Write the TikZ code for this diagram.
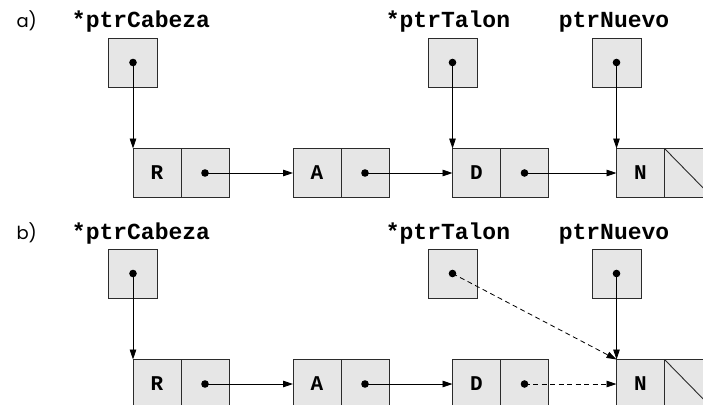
\documentclass[tikz,border=0pt]{standalone}
\usepackage{fontspec}
\setmonofont{Liberation Mono}
\newfontfamily\tagfont{Poppins}
\usetikzlibrary{arrows.meta,positioning}
\definecolor{cellgray}{HTML}{E6E6E6}
\definecolor{edge}{HTML}{2B2B2B}

\begin{document}
\begin{tikzpicture}[
  x=1pt,y=-1pt,
  cell/.style={draw=edge,fill=cellgray,line width=0.9pt,outer sep=0pt,inner sep=0pt,minimum width=48pt,minimum height=49pt,font=\fontsize{21}{21}\selectfont\ttfamily\bfseries},
  full/.style={cell,path picture={\fill[black] (path picture bounding box.center) circle (3.8pt);}},
  nil/.style={cell,path picture={\draw[edge,line width=0.9pt] (path picture bounding box.north west) -- (path picture bounding box.south east);}},
  box/.style={full,minimum width=49pt},
  var/.style={anchor=base,font=\fontsize{23}{23}\selectfont\ttfamily\bfseries},
  tag/.style={anchor=base west,font=\fontsize{18}{18}\selectfont\tagfont},
  arr/.style={-{Triangle[length=10pt,width=6.5pt]},line width=0.8pt},
  darr/.style={arr,dash pattern=on 5pt off 3.5pt}
]
\useasboundingbox (0,0) rectangle (703,404);
% a) before the new node is linked
\node[tag] (taga) at (13,28) {a)};
\node[var] (lca) at (141,28) {*ptrCabeza};
\node[var] (lta) at (448,28) {*ptrTalon};
\node[var] (lna) at (614,28) {ptrNuevo};
\node[box] (pca) at (133,62.5) {};
\node[box] (pta) at (452.5,62.5) {};
\node[box] (pna) at (616.5,62.5) {};
\node[cell] (ra) at (157,173) {R};
\node[full,right=0pt of ra] (rpa) {};
\node[cell] (aa) at (317,173) {A};
\node[full,right=0pt of aa] (apa) {};
\node[cell] (da) at (476.5,173) {D};
\node[full,right=0pt of da] (dpa) {};
\node[cell] (na) at (640.5,173) {N};
\node[nil,right=0pt of na] (npa) {};

\draw[arr] (pca.center) -- (ra.north west);
\draw[arr] (pta.center) -- (da.north west);
\draw[arr] (pna.center) -- (na.north west);
\draw[arr] (rpa.center) -- (aa.west);
\draw[arr] (apa.center) -- (da.west);
\draw[arr] (dpa.center) -- (na.west);

% b) after the new node is linked
\node[tag] (tagb) at (13,239.5) {b)};
\node[var] (lcb) at (141,239.5) {*ptrCabeza};
\node[var] (ltb) at (448,239.5) {*ptrTalon};
\node[var] (lnb) at (614,239.5) {ptrNuevo};
\node[box] (pcb) at (133,273.5) {};
\node[box] (ptb) at (452.5,273.5) {};
\node[box] (pnb) at (616.5,273.5) {};
\node[cell] (rb) at (157,384) {R};
\node[full,right=0pt of rb] (rpb) {};
\node[cell] (ab) at (317,384) {A};
\node[full,right=0pt of ab] (apb) {};
\node[cell] (db) at (476.5,384) {D};
\node[full,right=0pt of db] (dpb) {};
\node[cell] (nb) at (640.5,384) {N};
\node[nil,right=0pt of nb] (npb) {};

\draw[arr] (pcb.center) -- (rb.north west);
\draw[darr] (ptb.center) -- (nb.north west);
\draw[arr] (pnb.center) -- (nb.north west);
\draw[arr] (rpb.center) -- (ab.west);
\draw[arr] (apb.center) -- (db.west);
\draw[darr] (dpb.center) -- (nb.west);
\end{tikzpicture}
\end{document}
